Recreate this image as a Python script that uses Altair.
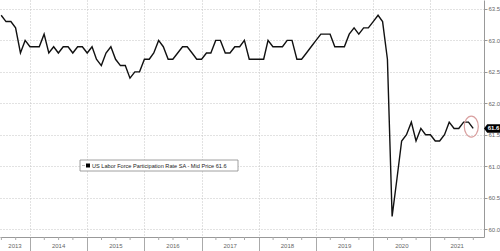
import altair as alt
import pandas as pd

# ---- data (monthly, month-end points, Jun 2013 .. Sep 2021) ----
start_month = "2013-06-30"
lfpr = [
    # 2013 Jun-Dec
    63.4, 63.3, 63.3, 63.2, 62.8, 63.0, 62.9,
    # 2014
    62.9, 62.9, 63.1, 62.8, 62.9, 62.8, 62.9, 62.9, 62.8, 62.9, 62.9, 62.8,
    # 2015
    62.9, 62.7, 62.6, 62.8, 62.9, 62.7, 62.6, 62.6, 62.4, 62.5, 62.5, 62.7,
    # 2016
    62.7, 62.8, 63.0, 62.9, 62.7, 62.7, 62.8, 62.9, 62.9, 62.8, 62.7, 62.7,
    # 2017
    62.8, 62.8, 63.0, 63.0, 62.8, 62.8, 62.9, 62.9, 63.0, 62.7, 62.7, 62.7,
    # 2018
    62.7, 63.0, 62.9, 62.9, 62.9, 63.0, 63.0, 62.7, 62.7, 62.8, 62.9, 63.0,
    # 2019
    63.1, 63.1, 63.1, 62.9, 62.9, 62.9, 63.1, 63.2, 63.1, 63.2, 63.2, 63.3,
    # 2020
    63.4, 63.3, 62.7, 60.2, 60.8, 61.4, 61.5, 61.7, 61.4, 61.6, 61.5, 61.5,
    # 2021
    61.4, 61.4, 61.5, 61.7, 61.6, 61.6, 61.7, 61.7, 61.6,
]
year_ticks = [2014, 2015, 2016, 2017, 2018, 2019, 2020, 2021]
year_labels = ["2013", "2014", "2015", "2016", "2017", "2018", "2019", "2020", "2021"]
y_ticks = [60.0, 60.5, 61.0, 61.5, 62.0, 62.5, 63.0, 63.5]
x_domain = [2013.4755, 2021.937]
y_domain = [59.873, 63.643]
series_name = "US Labor Force Participation Rate SA - Mid Price"
circle_t = [2021.715]
circle_v = [61.63]

W, H = 484, 237
FONT = "Liberation Sans"


def dec_year(d):
    days = 366 if d.is_leap_year else 365
    return d.year + d.dayofyear / days


dates = pd.date_range(start_month, periods=len(lfpr), freq="ME")
df = pd.DataFrame({"t": [dec_year(d) for d in dates], "v": lfpr})

# year label centres (centre of visible part of each year)
lab_pos = []
for lab in year_labels:
    y0 = max(int(lab), x_domain[0])
    y1 = min(int(lab) + 1, x_domain[1])
    lab_pos.append((y0 + y1) / 2)
df_years = pd.DataFrame({"t": lab_pos, "lab": year_labels})

quarters = []
for y in range(2013, 2022):
    for q in (0.25, 0.5, 0.75):
        if x_domain[0] < y + q < x_domain[1]:
            quarters.append(y + q)
df_q = pd.DataFrame({"t": quarters})

xs = alt.Scale(domain=x_domain, nice=False, zero=False)
ys = alt.Scale(domain=y_domain, nice=False, zero=False)

xaxis = alt.Axis(
    values=year_ticks, labels=False, title=None, tickSize=14, tickColor="#aaaaaa",
    domainColor="#999999", grid=True, gridColor="#c4c4c4", gridDash=[1, 2],
    gridWidth=1)
yaxis = alt.Axis(
    orient="right", values=y_ticks, format=".1f", title=None, tickSize=3,
    tickColor="#999999", domainColor="#999999", labelFontSize=6, labelFont=FONT,
    labelColor="#666666", labelPadding=1, grid=True, gridColor="#c4c4c4",
    gridDash=[1, 2], gridWidth=1)

X = alt.X("t:Q", scale=xs, axis=xaxis)
Y = alt.Y("v:Q", scale=ys, axis=yaxis)

line = alt.Chart(df).mark_line(color="#111111", strokeWidth=1.4, clip=True).encode(x=X, y=Y)

minor = alt.Chart(df_q).mark_rule(color="#aaaaaa", strokeWidth=1).encode(
    x=X, y=alt.value(H), y2=alt.value(H + 3),
)

ylabels = alt.Chart(df_years).mark_text(
    fontSize=6, font=FONT, color="#666666", baseline="middle", align="center"
).encode(x=X, y=alt.value(H + 9), text="lab:N")

circ = alt.Chart(pd.DataFrame({"t": circle_t, "v": circle_v})).mark_point(
    shape="M 0 -1 A 0.667 1 0 1 1 0 1 A 0.667 1 0 1 1 0 -1 Z",
    size=441, filled=False, stroke="#d9a0a0", strokeWidth=1.2, opacity=1,
).encode(x=X, y=Y)

last = pd.DataFrame({"v": [lfpr[-1]], "lab": [f"{lfpr[-1]:.1f}"]})
tag = alt.Chart(last).mark_point(
    shape="M -1 0 L -0.62 -0.5 L 1 -0.5 L 1 0.5 L -0.62 0.5 Z",
    size=289, filled=True, color="#000000", opacity=1,
).encode(x=alt.value(W + 8.5), y=Y)
tagtext = alt.Chart(last).mark_text(
    fontSize=6, font=FONT, color="white", fontWeight="bold", align="center",
    baseline="middle", dx=1,
).encode(x=alt.value(W + 8.5), y=Y, text="lab:N")

leg = pd.DataFrame({"lab": [f"{series_name} {lfpr[-1]:.1f}"]})
legbox = alt.Chart(leg).mark_rect(fill="white", stroke="#888888", strokeWidth=0.8).encode(
    x=alt.value(80), x2=alt.value(238), y=alt.value(160), y2=alt.value(171))
legsq = alt.Chart(leg).mark_square(color="black", size=16, opacity=1).encode(
    x=alt.value(88), y=alt.value(165.5))
legmark = alt.Chart(leg).mark_rule(color="#aaaaaa", strokeWidth=0.8).encode(
    x=alt.value(82), x2=alt.value(85), y=alt.value(165.5))
legtext = alt.Chart(leg).mark_text(
    fontSize=5.6, font=FONT, color="#222222", align="left", baseline="middle"
).encode(x=alt.value(92), y=alt.value(165.5), text="lab:N")

chart = alt.layer(
    line, minor, ylabels, circ, tag, tagtext, legbox, legmark, legsq, legtext
).properties(
    width=W, height=H, background="white",
    padding={"left": 0, "top": 0, "right": 16, "bottom": 14},
    autosize=alt.AutoSizeParams(type="none"),
).configure_view(strokeWidth=0)

chart.save("out.html", embed_options={"renderer": "svg", "actions": False})
